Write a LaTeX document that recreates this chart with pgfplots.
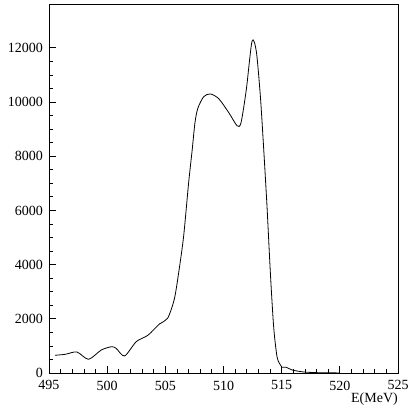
\documentclass[border=0pt]{standalone}
\usepackage{fontspec}
\setmainfont{Liberation Serif}
\usepackage{pgfplots}
\pgfplotsset{compat=1.18}
\begin{document}
\begin{tikzpicture}
\useasboundingbox (-49pt,-41pt) rectangle (360pt,373pt);
\begin{axis}[
 at={(0,0)}, anchor=south west,
 scale only axis, width=349pt, height=369pt,
 xmin=495, xmax=525, ymin=0, ymax=13620,
 xtick={495,500,...,525}, ytick={0,2000,...,12000},
 minor x tick num=4, minor y tick num=3,
 tick align=inside, xtick pos=bottom, ytick pos=left,
 major tick length=7pt, minor tick length=4pt,
 tick label style={font=\fontsize{14}{16}\selectfont},
 label style={font=\fontsize{14}{16}\selectfont},
 /pgf/number format/assume math mode=true,
 scaled y ticks=false, yticklabel style={/pgf/number format/1000 sep={}, anchor=east, inner sep=0pt, xshift=-6pt},
 xticklabel style={anchor=north, inner sep=0pt, yshift=-7.5pt},
 axis line style={line width=0.9pt},
 tick style={line width=0.8pt, black},
 xlabel={E(MeV)},
 xlabel style={at={(rel axis cs:1,0)}, anchor=north east, yshift=-20pt, inner sep=0pt},
]
\addplot[black, line width=0.8pt, smooth, tension=0.45] coordinates {
(495.5,654) (496.4,690) (497.4,776) (498.4,506) (499.5,850) (500.4,972)
(500.8,898) (501.5,628) (502.5,1157) (503.5,1393) (504.5,1811) (505.2,2021)
(505.77,2723) (506.14,3684) (506.57,5037) (507.0,7010) (507.3,8200)
(507.55,9250) (507.8,9780) (508.3,10200) (508.87,10300) (509.6,10120) (510.5,9580)
(511.16,9128) (511.5,9228) (511.96,10458) (512.45,12243) (512.82,11874)
(513.17,10211) (513.45,8304) (513.74,6146) (514.03,3684) (514.31,1711)
(514.6,602) (514.89,296) (515.03,210) (515.4,210) (515.9,111) (516.9,37)
(518.3,10) (520,3)
};
\end{axis}
\end{tikzpicture}
\end{document}
